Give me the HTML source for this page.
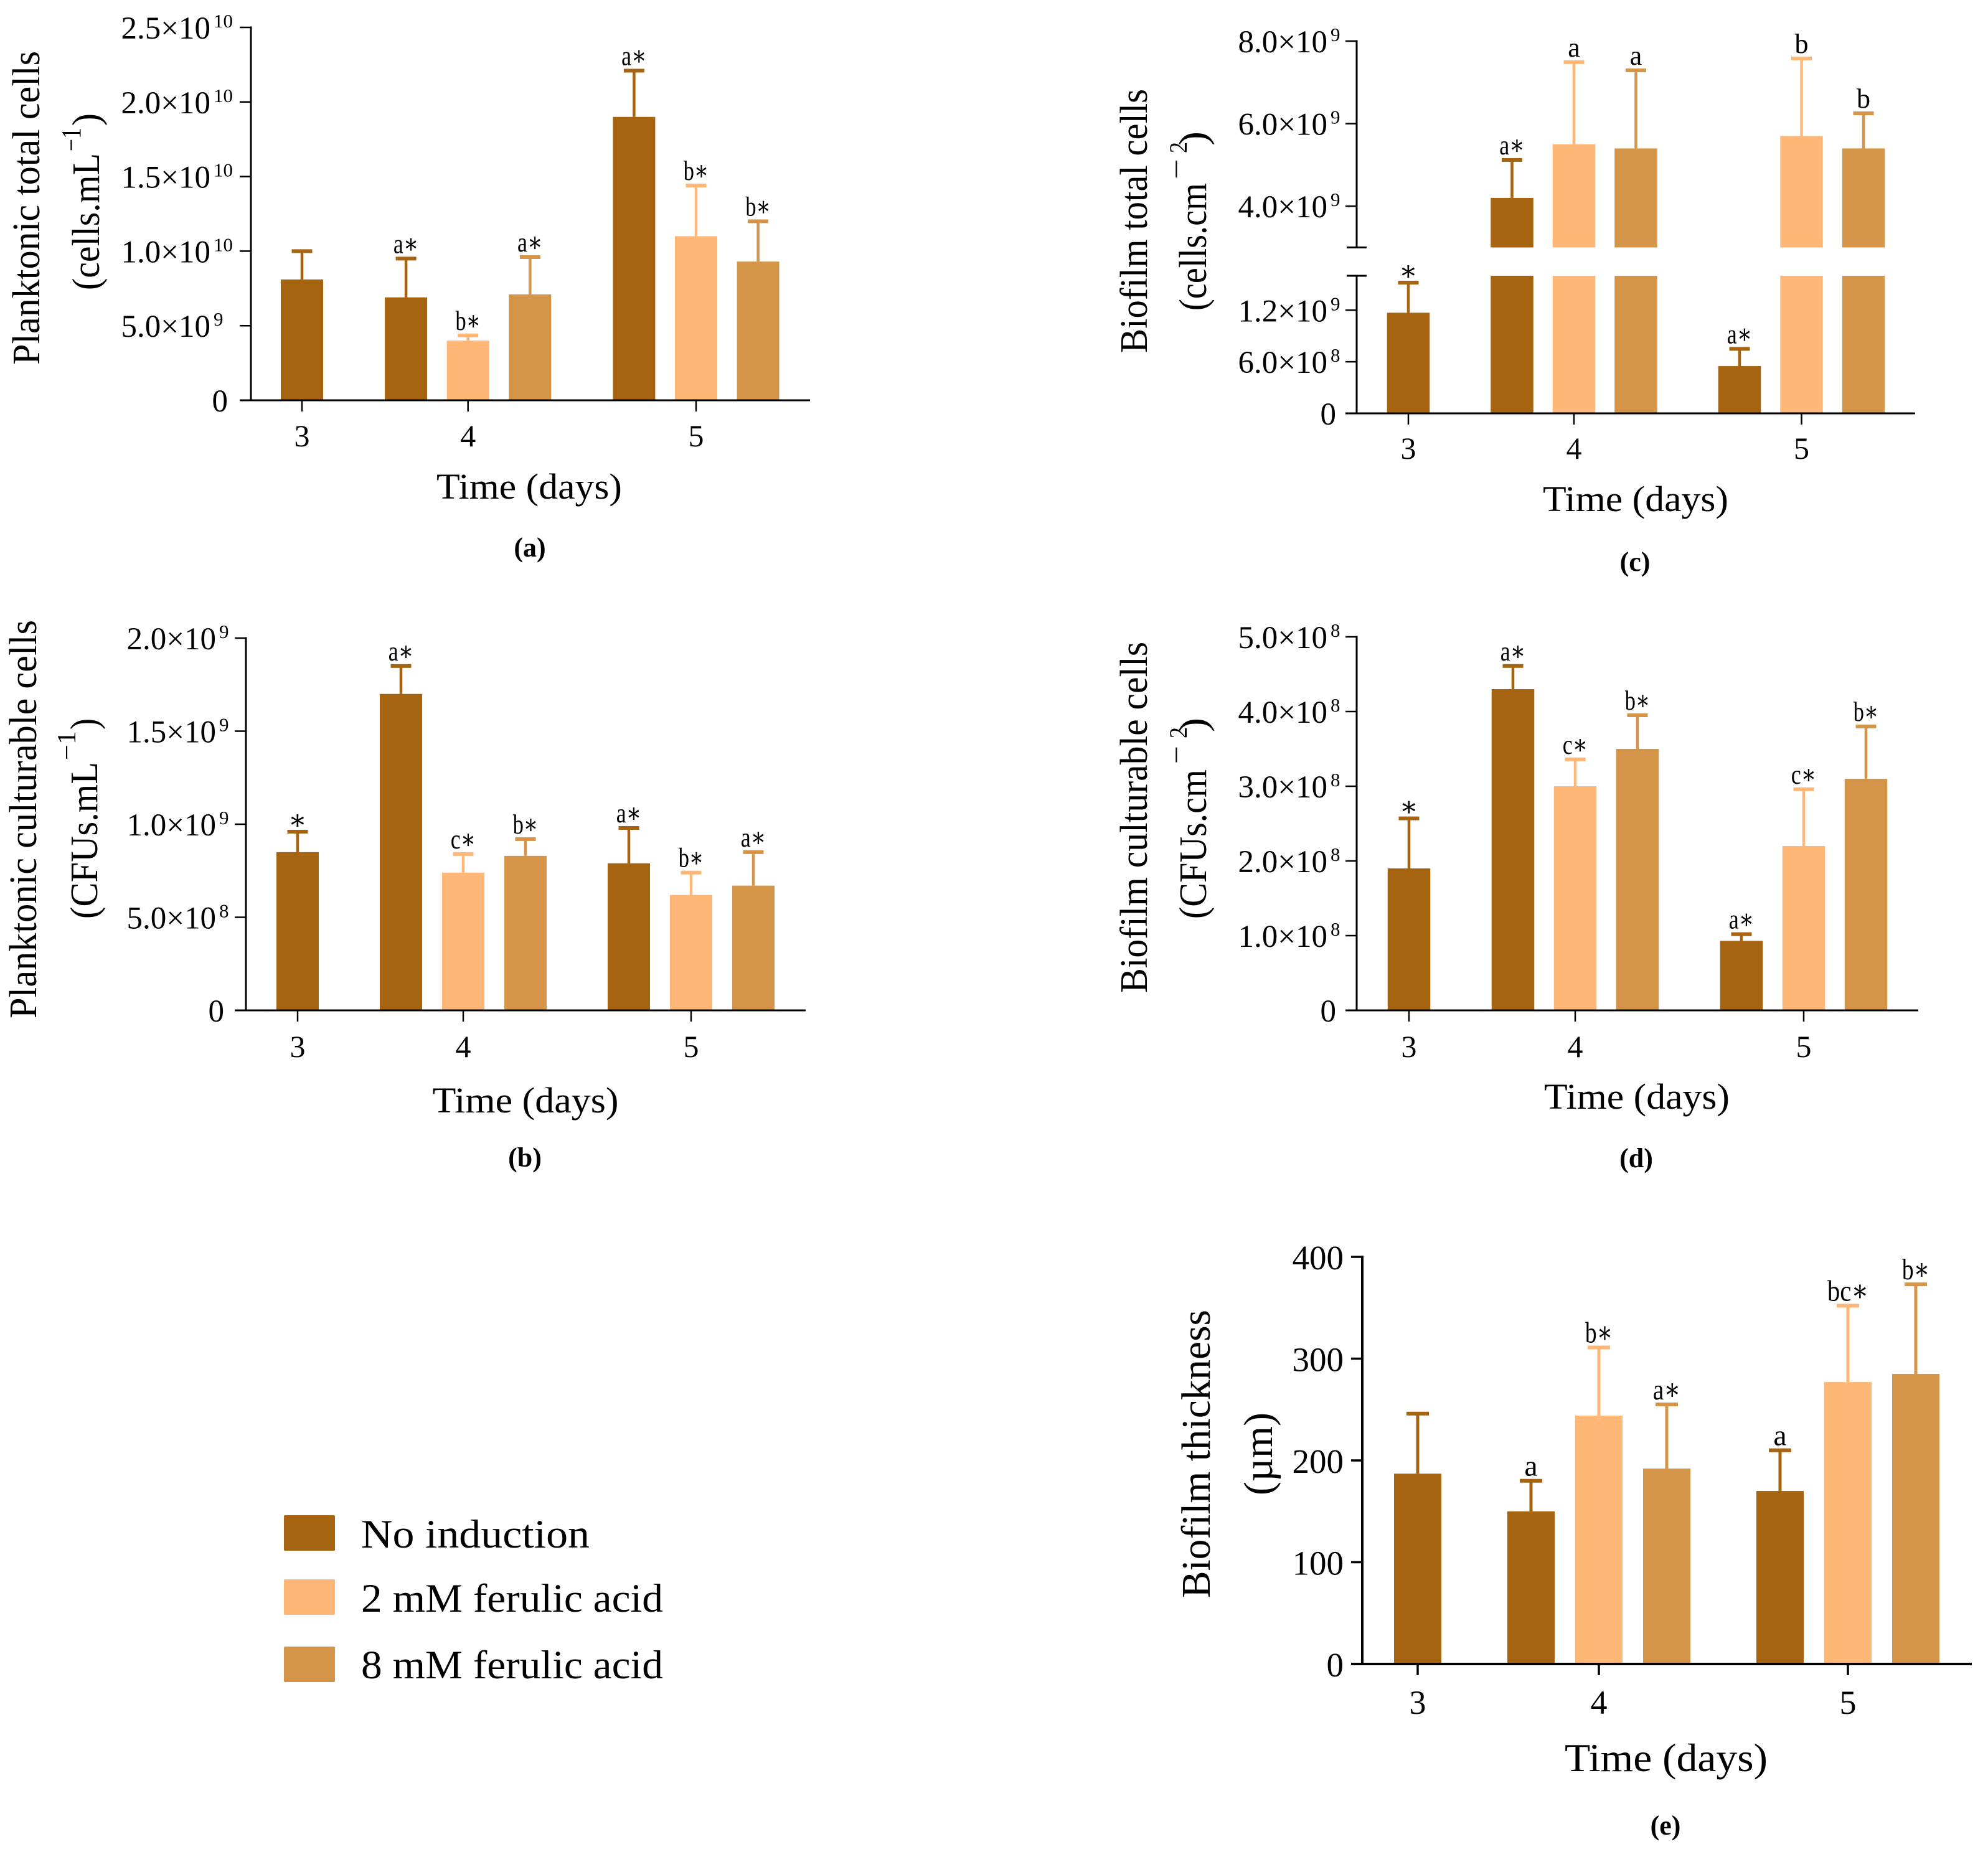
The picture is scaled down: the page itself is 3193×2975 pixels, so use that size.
<!DOCTYPE html>
<html lang="en">
<head>
<meta charset="utf-8">
<title>Planktonic and biofilm cell charts</title>
<style>
html,body{margin:0;padding:0;background:#fff;}
svg{display:block;}
text{font-family:"Liberation Serif","DejaVu Serif",serif;fill:#000;}
</style>
</head>
<body>
<svg id="figure" xmlns="http://www.w3.org/2000/svg" width="3193" height="2975" viewBox="0 0 3193 2975">
  <rect x="0" y="0" width="3193" height="2975" fill="#ffffff"/>
  <g>
    <rect x="456" y="2434" width="82" height="57" rx="2" fill="#A66410"/>
    <text x="580" y="2486" font-size="65" textLength="367" lengthAdjust="spacingAndGlyphs">No induction</text>
    <rect x="456" y="2537" width="82" height="57" rx="2" fill="#FFB778"/>
    <text x="580" y="2589" font-size="65" textLength="485" lengthAdjust="spacingAndGlyphs">2 mM ferulic acid</text>
    <rect x="456" y="2645" width="82" height="57" rx="2" fill="#D59549"/>
    <text x="580" y="2696" font-size="65" textLength="485" lengthAdjust="spacingAndGlyphs">8 mM ferulic acid</text>
  </g>
</svg>
<script>
// ---- shared categories ----
const days = ['3', '4', '5'];
const seriesKeys = ['no-induction', '2mm', '8mm'];

// ---- panel (a) planktonic total cells ----
const aMeanNone = [8.1e9, 6.9e9, 19.0e9];
const aMean2mM = [null, 4.0e9, 11.0e9];
const aMean8mM = [null, 7.1e9, 9.3e9];
const aTopNone = [10.0e9, 9.5e9, 22.1e9];
const aTop2mM = [null, 4.35e9, 14.4e9];
const aTop8mM = [null, 9.6e9, 12.0e9];
const aNoteNone = ['', 'a∗', 'a∗'];
const aNote2mM = ['', 'b∗', 'b∗'];
const aNote8mM = ['', 'a∗', 'b∗'];
const aTicks = [0, 5e9, 1e10, 1.5e10, 2e10, 2.5e10];
const aTickText = ['0', '5.0×10', '1.0×10', '1.5×10', '2.0×10', '2.5×10'];
const aTickExp = ['', '9', '10', '10', '10', '10'];

// ---- panel (b) planktonic culturable cells ----
const bMeanNone = [0.85e9, 1.70e9, 0.79e9];
const bMean2mM = [null, 0.74e9, 0.62e9];
const bMean8mM = [null, 0.83e9, 0.67e9];
const bTopNone = [0.96e9, 1.85e9, 0.98e9];
const bTop2mM = [null, 0.84e9, 0.74e9];
const bTop8mM = [null, 0.92e9, 0.85e9];
const bNoteNone = ['∗', 'a∗', 'a∗'];
const bNote2mM = ['', 'c∗', 'b∗'];
const bNote8mM = ['', 'b∗', 'a∗'];
const bTicks = [0, 5e8, 1e9, 1.5e9, 2e9];
const bTickText = ['0', '5.0×10', '1.0×10', '1.5×10', '2.0×10'];
const bTickExp = ['', '8', '9', '9', '9'];

// ---- panel (c) biofilm total cells (broken axis) ----
const cMeanNone = [1.17e9, 4.2e9, 0.55e9];
const cMean2mM = [null, 5.5e9, 5.7e9];
const cMean8mM = [null, 5.4e9, 5.4e9];
const cTopNone = [1.52e9, 5.12e9, 0.75e9];
const cTop2mM = [null, 7.49e9, 7.58e9];
const cTop8mM = [null, 7.29e9, 6.25e9];
const cNoteNone = ['∗', 'a∗', 'a∗'];
const cNote2mM = ['', 'a', 'b'];
const cNote8mM = ['', 'a', 'b'];
const cTicks = [0, 6e8, 1.2e9, 4e9, 6e9, 8e9];
const cTickText = ['0', '6.0×10', '1.2×10', '4.0×10', '6.0×10', '8.0×10'];
const cTickExp = ['', '8', '9', '9', '9', '9'];

// ---- panel (d) biofilm culturable cells ----
const dMeanNone = [1.90e8, 4.30e8, 0.93e8];
const dMean2mM = [null, 3.00e8, 2.20e8];
const dMean8mM = [null, 3.50e8, 3.10e8];
const dTopNone = [2.57e8, 4.61e8, 1.02e8];
const dTop2mM = [null, 3.36e8, 2.96e8];
const dTop8mM = [null, 3.95e8, 3.80e8];
const dNoteNone = ['∗', 'a∗', 'a∗'];
const dNote2mM = ['', 'c∗', 'c∗'];
const dNote8mM = ['', 'b∗', 'b∗'];
const dTicks = [0, 1e8, 2e8, 3e8, 4e8, 5e8];
const dTickText = ['0', '1.0×10', '2.0×10', '3.0×10', '4.0×10', '5.0×10'];
const dTickExp = ['', '8', '8', '8', '8', '8'];

// ---- panel (e) biofilm thickness ----
const eMeanNone = [187, 150, 170];
const eMean2mM = [null, 244, 277];
const eMean8mM = [null, 192, 285];
const eTopNone = [246, 180, 210];
const eTop2mM = [null, 311, 352];
const eTop8mM = [null, 255, 373];
const eNoteNone = ['', 'a', 'a'];
const eNote2mM = ['', 'b∗', 'bc∗'];
const eNote8mM = ['', 'a∗', 'b∗'];
const eTicks = [0, 100, 200, 300, 400];
const eTickText = ['0', '100', '200', '300', '400'];
const eTickExp = ['', '', '', '', ''];

const colors = ['#A66410', '#FFB778', '#D59549'];

const panels = [
  { id: 'a', means: [aMeanNone, aMean2mM, aMean8mM], tops: [aTopNone, aTop2mM, aTop8mM], notes: [aNoteNone, aNote2mM, aNote8mM],
    ticks: aTicks, tickText: aTickText, tickExp: aTickExp,
    segments: [{ from: 0, to: 2.5e10, y0: 643, y1: 44 }], breakTicks: [],
    axisX: 403, axisEnd: 1301, x0: 485, step: 99.6, gap: 67.5, barW: 68, capW: 33, stemW: 4.5, capH: 6, axisW: 3,
    labelEnd: 338, labelSize: 51, labelDy: 18, zeroEnd: 366, xBase: 717, xLabelSize: 50, noteSize: 44, noteGap: 9,
    xTitle: { cx: 850, y: 801, w: 298, size: 58 }, caption: { cx: 851, y: 894, size: 44 },
    title: [
      { t: 'Planktonic total cells', x: 63, bottom: 586, top: 82, size: 62 },
      { t: '(cells.mL', x: 159, bottom: 466, top: 246, size: 62 },
      { t: '−1', x: 129, bottom: 243, top: 205, size: 44 },
      { t: ')', x: 159, bottom: 202, top: 182, size: 62 }
    ] },
  { id: 'b', means: [bMeanNone, bMean2mM, bMean8mM], tops: [bTopNone, bTop2mM, bTop8mM], notes: [bNoteNone, bNote2mM, bNote8mM],
    ticks: bTicks, tickText: bTickText, tickExp: bTickExp,
    segments: [{ from: 0, to: 2e9, y0: 1623, y1: 1025 }], breakTicks: [],
    axisX: 395, axisEnd: 1294, x0: 478, step: 100, gap: 66, barW: 68, capW: 33, stemW: 4.5, capH: 6, axisW: 3,
    labelEnd: 347, labelSize: 51, labelDy: 18, zeroEnd: 360, xBase: 1698, xLabelSize: 50, noteSize: 44, noteGap: 9,
    xTitle: { cx: 844, y: 1787, w: 299, size: 58 }, caption: { cx: 843, y: 1874, size: 44 },
    title: [
      { t: 'Planktonic culturable cells', x: 58, bottom: 1636, top: 996, size: 62 },
      { t: '(CFUs.mL', x: 156, bottom: 1476, top: 1224, size: 62 },
      { t: '−1', x: 121, bottom: 1221, top: 1174, size: 42 },
      { t: ')', x: 156, bottom: 1172, top: 1154, size: 62 }
    ] },
  { id: 'c', means: [cMeanNone, cMean2mM, cMean8mM], tops: [cTopNone, cTop2mM, cTop8mM], notes: [cNoteNone, cNote2mM, cNote8mM],
    ticks: cTicks, tickText: cTickText, tickExp: cTickExp,
    segments: [{ from: 0, to: 1.6e9, y0: 664, y1: 443 }, { from: 3e9, to: 8e9, y0: 397.5, y1: 66 }], breakTicks: [1.6e9, 3e9],
    axisX: 2179, axisEnd: 3076, x0: 2262, step: 99.5, gap: 67, barW: 68.5, capW: 33, stemW: 4.5, capH: 6, axisW: 3,
    labelEnd: 2132, labelSize: 51, labelDy: 18, zeroEnd: 2146, xBase: 737, xLabelSize: 50, noteSize: 44, noteGap: 9,
    xTitle: { cx: 2627, y: 821, w: 298, size: 58 }, caption: { cx: 2626, y: 917, size: 44 },
    title: [
      { t: 'Biofilm total cells', x: 1842, bottom: 567, top: 143, size: 62 },
      { t: '(cells.cm', x: 1937, bottom: 499, top: 294, size: 62 },
      { t: '−', x: 1904, bottom: 288, top: 255, size: 44 },
      { t: '2', x: 1906, bottom: 246, top: 228, size: 40 },
      { t: ')', x: 1937, bottom: 234, top: 211, size: 64 }
    ] },
  { id: 'd', means: [dMeanNone, dMean2mM, dMean8mM], tops: [dTopNone, dTop2mM, dTop8mM], notes: [dNoteNone, dNote2mM, dNote8mM],
    ticks: dTicks, tickText: dTickText, tickExp: dTickExp,
    segments: [{ from: 0, to: 5e8, y0: 1623, y1: 1023 }], breakTicks: [],
    axisX: 2179, axisEnd: 3081, x0: 2263, step: 100, gap: 67, barW: 68.5, capW: 33, stemW: 4.5, capH: 6, axisW: 3,
    labelEnd: 2132, labelSize: 51, labelDy: 18, zeroEnd: 2146, xBase: 1698, xLabelSize: 50, noteSize: 44, noteGap: 9,
    xTitle: { cx: 2629, y: 1781, w: 298, size: 58 }, caption: { cx: 2628, y: 1875, size: 44 },
    title: [
      { t: 'Biofilm culturable cells', x: 1842, bottom: 1595, top: 1031, size: 62 },
      { t: '(CFUs.cm', x: 1937, bottom: 1476, top: 1236, size: 62 },
      { t: '−', x: 1904, bottom: 1227, top: 1198, size: 44 },
      { t: '2', x: 1906, bottom: 1186, top: 1168, size: 40 },
      { t: ')', x: 1937, bottom: 1176, top: 1153, size: 64 }
    ] },
  { id: 'e', means: [eMeanNone, eMean2mM, eMean8mM], tops: [eTopNone, eTop2mM, eTop8mM], notes: [eNoteNone, eNote2mM, eNote8mM],
    ticks: eTicks, tickText: eTickText, tickExp: eTickExp,
    segments: [{ from: 0, to: 400, y0: 2673, y1: 2019 }], breakTicks: [],
    axisX: 2188, axisEnd: 3167, x0: 2277, step: 109, gap: 73, barW: 76, capW: 36, stemW: 5, capH: 6, axisW: 4,
    labelEnd: 2158, labelSize: 55, labelDy: 20, zeroEnd: 2158, xBase: 2753, xLabelSize: 54, noteSize: 48, noteGap: 8,
    xTitle: { cx: 2676, y: 2845, w: 326, size: 64 }, caption: { cx: 2675, y: 2947, size: 44 },
    title: [
      { t: 'Biofilm thickness', x: 1943, bottom: 2567, top: 2104, size: 66 },
      { t: '(µm)', x: 2043, bottom: 2402, top: 2269, size: 66 }
    ] }
];

const SVGNS = 'http://www.w3.org/2000/svg';
const figure = document.getElementById('figure');

function make(parent, tag, attrs, name) {
  const el = document.createElementNS(SVGNS, tag);
  for (const k in attrs) { el.setAttribute(k, attrs[k]); }
  
  
  parent.appendChild(el);
  return el;
}

function makeText(parent, attrs, str, name) {
  const el = make(parent, 'text', attrs, name);
  el.textContent = str;
  return el;
}

function yScale(panel, v) {
  const segs = panel.segments;
  let seg = segs[0];
  for (const s of segs) { if (v >= s.from) { seg = s; } }
  return seg.y0 + (v - seg.from) / (seg.to - seg.from) * (seg.y1 - seg.y0);
}

function barSlot(dayIndex, seriesIndex) {
  return dayIndex === 0 ? 0 : 1 + (dayIndex - 1) * 3 + seriesIndex;
}

function xScale(panel, dayIndex, seriesIndex) {
  return panel.x0 + barSlot(dayIndex, seriesIndex) * panel.step + dayIndex * panel.gap;
}

function dayTickX(panel, dayIndex) {
  return dayIndex === 0 ? xScale(panel, 0, 0) : xScale(panel, dayIndex, 1);
}

function noteAttrs(panel, cx, capTop, note) {
  const attrs = { x: cx, y: capTop - panel.noteGap + 3, 'font-size': panel.noteSize, 'text-anchor': 'middle' };
  if (note === '∗') {
    attrs.y = capTop - panel.noteGap + 8;
  } else if (note.indexOf('∗') >= 0) {
    attrs.textLength = (note.length - 1) * panel.noteSize * 0.46 + panel.noteSize * 0.46;
    attrs.lengthAdjust = 'spacingAndGlyphs';
  }
  return attrs;
}

function drawBars(panel, g) {
  const baseY = panel.segments[0].y0;
  panel.means.forEach(function (series, si) {
    series.forEach(function (value, di) {
      if (value === null) { return; }
      const cx = xScale(panel, di, si);
      const tag = 'day' + days[di] + '-' + seriesKeys[si];
      panel.segments.forEach(function (seg, k) {
        if (value <= seg.from) { return; }
        const yTop = yScale(panel, Math.min(value, seg.to));
        const yBottom = k === 0 ? baseY : seg.y0;
        make(g, 'rect', { x: cx - panel.barW / 2, y: yTop, width: panel.barW, height: yBottom - yTop, fill: colors[si] }, 'bar-' + panel.id + '-' + tag);
      });
      const topY = yScale(panel, panel.tops[si][di]);
      const meanY = yScale(panel, value);
      make(g, 'rect', { x: cx - panel.stemW / 2, y: topY, width: panel.stemW, height: meanY - topY, fill: colors[si] }, 'error-bar-' + panel.id + '-' + tag);
      make(g, 'rect', { x: cx - panel.capW / 2, y: topY - panel.capH / 2, width: panel.capW, height: panel.capH, fill: colors[si] }, 'error-cap-' + panel.id + '-' + tag);
      const note = panel.notes[si][di];
      if (note) {
        makeText(g, noteAttrs(panel, cx, topY - panel.capH / 2, note), note, 'significance-label-' + panel.id + '-' + tag);
      }
    });
  });
}

function drawAxes(panel, g) {
  const stroke = panel.axisW;
  const baseY = panel.segments[0].y0;
  const tickLeft = panel.axisX - 18;
  panel.segments.forEach(function (seg) {
    make(g, 'line', { x1: panel.axisX, x2: panel.axisX, y1: seg.y0, y2: seg.y1 - stroke / 2, stroke: '#000', 'stroke-width': stroke }, 'y-axis-line-' + panel.id);
  });
  make(g, 'line', { x1: tickLeft, x2: panel.axisEnd, y1: baseY, y2: baseY, stroke: '#000', 'stroke-width': stroke }, 'x-axis-line-' + panel.id);
  panel.ticks.forEach(function (v, i) {
    const y = yScale(panel, v);
    make(g, 'line', { x1: tickLeft, x2: panel.axisX, y1: y, y2: y, stroke: '#000', 'stroke-width': stroke - 0.5 }, 'y-tick-' + panel.id);
    const hasExp = panel.tickExp[i] !== '';
    if (hasExp) {
      makeText(g, { x: panel.labelEnd, y: y + panel.labelDy, 'font-size': panel.labelSize, 'text-anchor': 'end' }, panel.tickText[i], 'y-tick-label-' + panel.id);
      makeText(g, { x: panel.labelEnd + 5, y: y, 'font-size': 31 }, panel.tickExp[i], 'y-tick-exponent-' + panel.id);
    } else {
      makeText(g, { x: panel.zeroEnd, y: y + panel.labelDy, 'font-size': panel.labelSize, 'text-anchor': 'end' }, panel.tickText[i], 'y-tick-label-' + panel.id);
    }
  });
  panel.breakTicks.forEach(function (v) {
    const y = yScale(panel, v);
    make(g, 'line', { x1: panel.axisX - 16, x2: panel.axisX + 16, y1: y, y2: y, stroke: '#000', 'stroke-width': stroke }, 'axis-break-tick-' + panel.id);
  });
  days.forEach(function (day, di) {
    const x = dayTickX(panel, di);
    make(g, 'line', { x1: x, x2: x, y1: baseY, y2: baseY + 18, stroke: '#000', 'stroke-width': stroke - 0.5 }, 'x-tick-' + panel.id);
    makeText(g, { x: x, y: panel.xBase, 'font-size': panel.xLabelSize, 'text-anchor': 'middle' }, day, 'x-tick-label-' + panel.id);
  });
}

function drawTitles(panel, g) {
  const xt = panel.xTitle;
  makeText(g, { x: xt.cx - xt.w / 2, y: xt.y, 'font-size': xt.size, textLength: xt.w, lengthAdjust: 'spacingAndGlyphs' }, 'Time (days)', 'x-axis-title-' + panel.id);
  makeText(g, { x: panel.caption.cx, y: panel.caption.y, 'font-size': panel.caption.size, 'font-weight': 'bold', 'text-anchor': 'middle' }, '(' + panel.id + ')', 'panel-caption-' + panel.id);
  panel.title.forEach(function (part) {
    makeText(g, { x: part.x, y: part.bottom, 'font-size': part.size, transform: 'rotate(-90 ' + part.x + ' ' + part.bottom + ')', textLength: part.bottom - part.top, lengthAdjust: 'spacingAndGlyphs' }, part.t, 'y-axis-title-' + panel.id);
  });
}

panels.forEach(function (panel) {
  const g = make(figure, 'g', {}, 'panel-' + panel.id);
  drawBars(panel, g);
  drawAxes(panel, g);
  drawTitles(panel, g);
});
</script>
</body>
</html>
